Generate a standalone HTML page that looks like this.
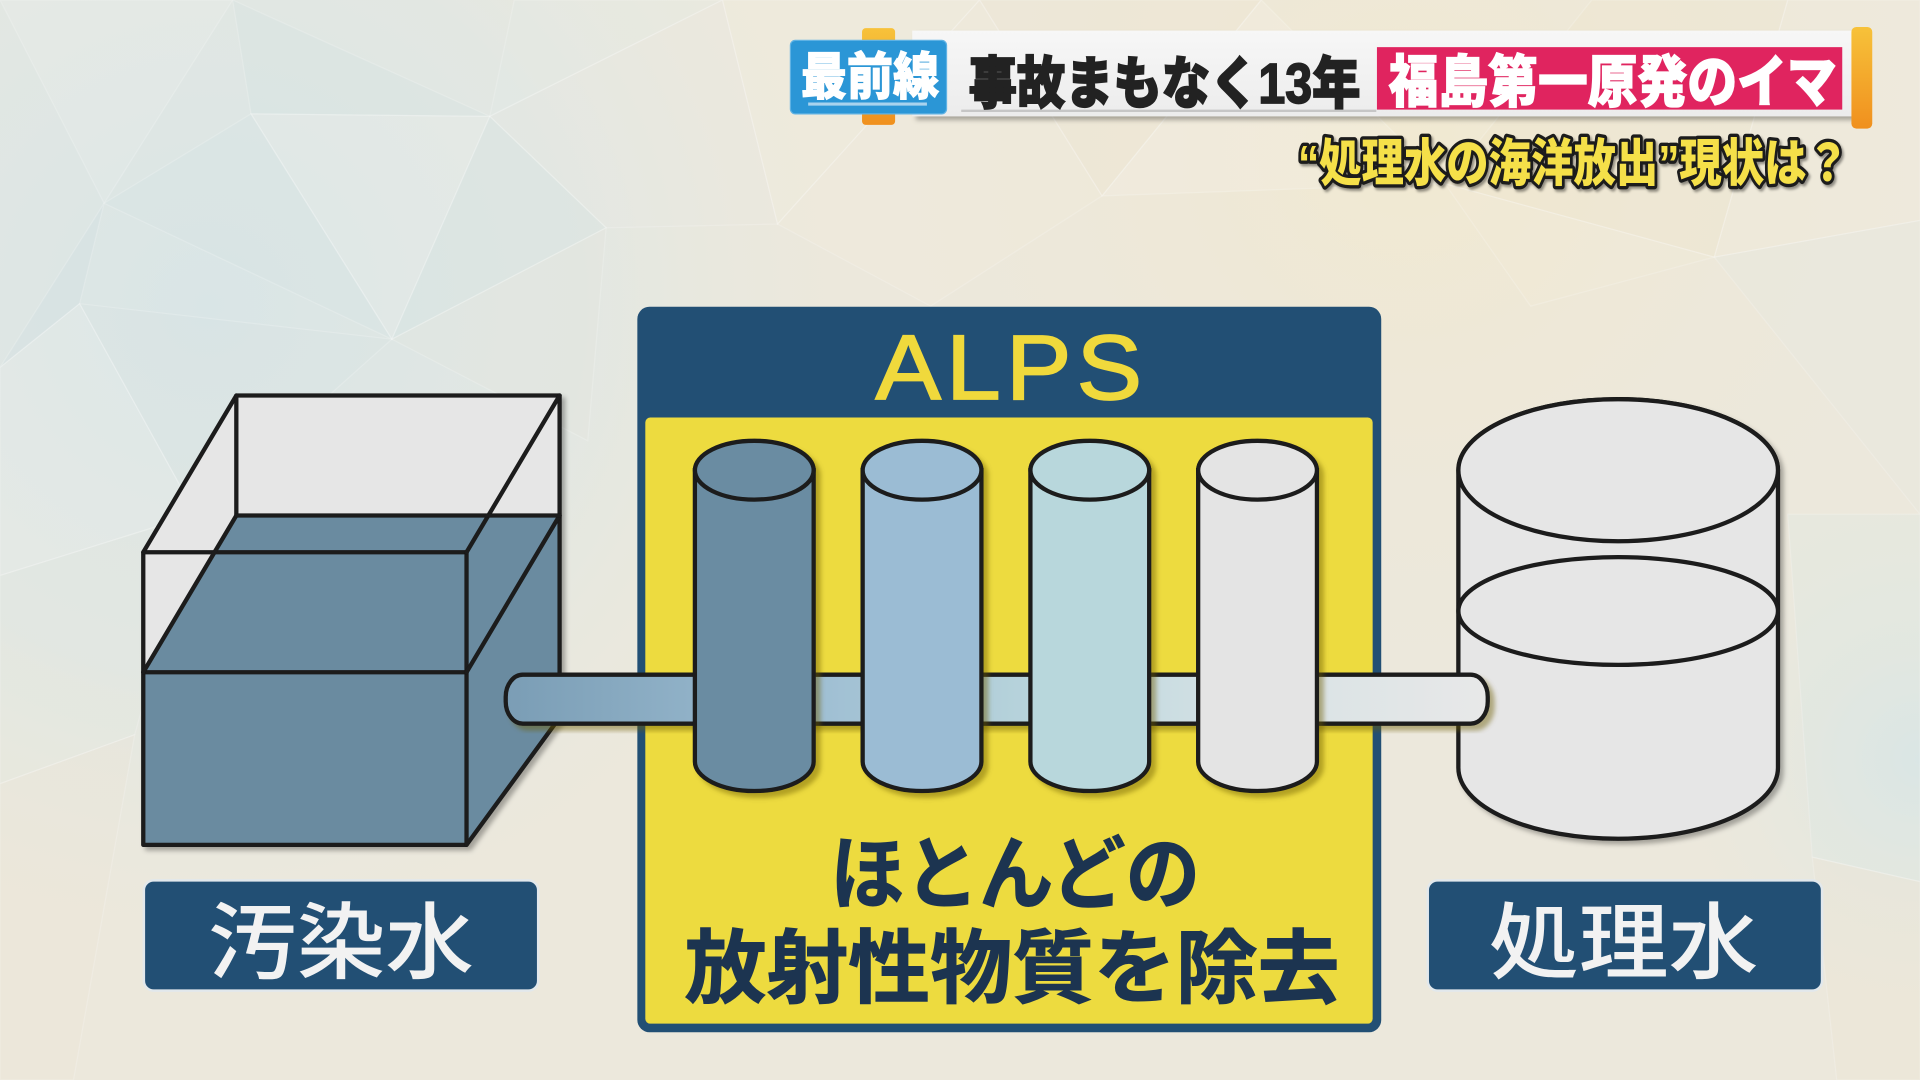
<!DOCTYPE html>
<html>
<head>
<meta charset="utf-8">
<style>
html,body{margin:0;padding:0;width:1920px;height:1080px;overflow:hidden;background:#ece8dc;}
svg{display:block;}
.cjk{font-family:"Liberation Sans","Noto Sans CJK JP",sans-serif;}
</style>
</head>
<body>
<svg width="1920" height="1080" viewBox="0 0 1568 882" xmlns="http://www.w3.org/2000/svg">
<defs>
  <radialGradient id="bgBlue" cx="170" cy="250" r="560" gradientUnits="userSpaceOnUse">
    <stop offset="0" stop-color="#d9e5e6"/>
    <stop offset="0.55" stop-color="#e0e7e4" stop-opacity="0.8"/>
    <stop offset="1" stop-color="#ece8dc" stop-opacity="0"/>
  </radialGradient>
  <radialGradient id="bgBlue2" cx="1568" cy="620" r="230" gradientUnits="userSpaceOnUse">
    <stop offset="0" stop-color="#dae6e5"/>
    <stop offset="1" stop-color="#ece8dc" stop-opacity="0"/>
  </radialGradient>
  <radialGradient id="bgCream" cx="1150" cy="120" r="520" gradientUnits="userSpaceOnUse">
    <stop offset="0" stop-color="#f1e9d1"/>
    <stop offset="1" stop-color="#ece8dc" stop-opacity="0"/>
  </radialGradient>
  <linearGradient id="pipeG" x1="413" y1="0" x2="1215" y2="0" gradientUnits="userSpaceOnUse">
    <stop offset="0" stop-color="#7a9db5"/>
    <stop offset="0.3" stop-color="#9dbdd2"/>
    <stop offset="0.55" stop-color="#b9d5dc"/>
    <stop offset="0.75" stop-color="#d6e2e5"/>
    <stop offset="1" stop-color="#e8e8e8"/>
  </linearGradient>
  <linearGradient id="orangeG" x1="0" y1="0" x2="0" y2="1">
    <stop offset="0" stop-color="#f7c23a"/>
    <stop offset="1" stop-color="#f0901e"/>
  </linearGradient>
  <linearGradient id="whiteBar" x1="0" y1="0" x2="0" y2="1">
    <stop offset="0" stop-color="#f7f7f7"/>
    <stop offset="1" stop-color="#ececec"/>
  </linearGradient>
  <filter id="sh" x="-10%" y="-10%" width="130%" height="130%">
    <feDropShadow dx="3" dy="3" stdDeviation="2" flood-color="#000" flood-opacity="0.3"/>
  </filter>
  <filter id="cs" x="-20%" y="-10%" width="150%" height="130%">
    <feDropShadow dx="4" dy="4" stdDeviation="2" flood-color="#6b5c00" flood-opacity="0.45"/>
  </filter>
  <filter id="ts" x="-5%" y="-20%" width="110%" height="150%">
    <feDropShadow dx="1.5" dy="2" stdDeviation="1" flood-color="#000" flood-opacity="0.4"/>
  </filter>
</defs>

<!-- Background -->
<rect x="0" y="0" width="1568" height="882" fill="#ece8dc"/>
<rect x="0" y="0" width="1568" height="882" fill="url(#bgCream)"/>
<rect x="0" y="0" width="1568" height="882" fill="url(#bgBlue)"/>
<rect x="0" y="0" width="1568" height="882" fill="url(#bgBlue2)"/>

<g stroke="#ffffff" stroke-opacity="0.2" stroke-width="1">
  <polygon points="0,0 190,0 85,166" fill="#ffffff" fill-opacity="0.1"/>
  <polygon points="190,0 400,95 205,93" fill="#cfe0e3" fill-opacity="0.2"/>
  <polygon points="85,166 205,93 320,277" fill="#d2e2e4" fill-opacity="0.25"/>
  <polygon points="205,93 400,95 320,277" fill="#ffffff" fill-opacity="0.1"/>
  <polygon points="400,95 495,186 320,277" fill="#cddfe2" fill-opacity="0.2"/>
  <polygon points="0,300 85,166 65,248" fill="#cbdde0" fill-opacity="0.25"/>
  <polygon points="65,248 320,277 160,420" fill="#d5e3e3" fill-opacity="0.2"/>
  <polygon points="0,300 65,248 160,420 0,470" fill="#ffffff" fill-opacity="0.1"/>
  <polygon points="320,277 495,186 480,360" fill="#e8e6da" fill-opacity="0.2"/>
  <polygon points="420,0 590,0 400,95" fill="#e4ebe8" fill-opacity="0.25"/>
  <polygon points="590,0 635,183 495,186 400,95" fill="#e9ebe4" fill-opacity="0.2"/>
  <polygon points="590,0 800,0 635,183" fill="#f3eedf" fill-opacity="0.3"/>
  <polygon points="800,0 1030,0 900,160" fill="#efe6cf" fill-opacity="0.3"/>
  <polygon points="635,183 800,0 900,160 760,250" fill="#f2ecdc" fill-opacity="0.25"/>
  <polygon points="900,160 1030,0 1180,150" fill="#ffffff" fill-opacity="0.12"/>
  <polygon points="1180,150 1300,0 1460,0 1400,210" fill="#efe5cb" fill-opacity="0.3"/>
  <polygon points="1400,210 1460,0 1568,0 1568,180" fill="#f3ecda" fill-opacity="0.25"/>
  <polygon points="1400,210 1568,180 1568,420" fill="#e3e8e2" fill-opacity="0.3"/>
  <polygon points="1180,150 1400,210 1250,250" fill="#f3ecd9" fill-opacity="0.25"/>
  <polygon points="0,470 160,420 110,600 0,640" fill="#e2e6e1" fill-opacity="0.25"/>
  <polygon points="0,640 110,600 60,882 0,882" fill="#ebe6d6" fill-opacity="0.3"/>
  <polygon points="1460,420 1568,420 1568,720 1480,700" fill="#dbe7e6" fill-opacity="0.3"/>
  <polygon points="1480,700 1568,720 1568,882 1500,882" fill="#ece6d3" fill-opacity="0.3"/>
</g>

<!-- Header -->
<rect x="745" y="25" width="768" height="70" fill="url(#whiteBar)" filter="url(#sh)"/>
<line x1="785" y1="90.5" x2="1124" y2="90.5" stroke="#c6c6c6" stroke-width="2"/>
<rect x="704" y="23" width="27" height="79" rx="3" fill="url(#orangeG)"/>
<rect x="1512" y="22" width="17" height="83" rx="4" fill="url(#orangeG)"/>
<rect x="645.5" y="33" width="127.5" height="60" rx="4" fill="#2b96d6" stroke="#5fb2e4" stroke-width="1"/>
<line x1="660" y1="85" x2="757" y2="85" stroke="#a9d3ee" stroke-width="2.5"/>
<text class="cjk" x="654" y="77" font-size="42" font-weight="900" fill="#ffffff" stroke="#ffffff" stroke-width="0.8" textLength="113" lengthAdjust="spacingAndGlyphs">最前線</text>
<text class="cjk" x="791" y="84" font-size="46" font-weight="900" fill="#222222" stroke="#222222" stroke-width="1.4" textLength="320" lengthAdjust="spacingAndGlyphs">事故まもなく13年</text>
<rect x="1124.5" y="38.5" width="380" height="51" fill="#e0245f"/>
<text class="cjk" x="1134" y="83" font-size="46" font-weight="900" fill="#ffffff" stroke="#ffffff" stroke-width="1" textLength="366" lengthAdjust="spacingAndGlyphs">福島第一原発のイマ</text>
<text class="cjk" x="1060" y="148" font-size="42" font-weight="900" fill="#f5e04a" stroke="#1a1a1a" stroke-width="5.5" stroke-linejoin="round" paint-order="stroke" textLength="450" lengthAdjust="spacingAndGlyphs" filter="url(#ts)">“処理水の海洋放出”現状は？</text>

<!-- Left tank -->
<g filter="url(#sh)">
  <polygon points="117,451 193,323 457,323 457,586 381,690 117,690" fill="#e6e6e6"/>
  <polygon points="117,549 193,421 457,421 457,586 381,690 117,690" fill="#6a8ba0"/>
  <g fill="none" stroke="#1a1a1a" stroke-width="3.5" stroke-linejoin="round" stroke-linecap="round">
    <polygon points="117,451 193,323 457,323 457,586 381,690 117,690"/>
    <line x1="117" y1="451" x2="381" y2="451"/>
    <line x1="381" y1="451" x2="381" y2="690"/>
    <line x1="381" y1="451" x2="457" y2="323"/>
    <line x1="193" y1="323" x2="193" y2="421"/>
    <line x1="117" y1="549" x2="381" y2="549"/>
    <line x1="117" y1="549" x2="193" y2="421"/>
    <line x1="381" y1="549" x2="457" y2="421"/>
    <line x1="193" y1="421" x2="457" y2="421"/>
  </g>
</g>

<!-- Right tank -->
<g filter="url(#sh)">
  <path d="M1191,384 A130.5,58 0 0 1 1452,384 L1452,627 A130.5,58 0 0 1 1191,627 Z" fill="#e6e6e6" stroke="#1a1a1a" stroke-width="3.5"/>
  <ellipse cx="1321.5" cy="384" rx="130.5" ry="58" fill="#e6e6e6" stroke="#1a1a1a" stroke-width="3.5"/>
  <ellipse cx="1321.5" cy="499" rx="130.5" ry="44" fill="#e6e6e6" stroke="#1a1a1a" stroke-width="3.5"/>
</g>

<!-- ALPS panel -->
<rect x="520.5" y="250.5" width="607.5" height="592.5" rx="10" fill="#224f74"/>
<rect x="527" y="341" width="594" height="495" rx="4" fill="#eddb3f"/>
<text x="715" y="326" font-family="Liberation Sans, sans-serif" font-size="75" fill="#f0d93c" stroke="#f0d93c" stroke-width="1.4" letter-spacing="4" textLength="222" lengthAdjust="spacingAndGlyphs">ALPS</text>

<!-- Pipe -->
<g filter="url(#cs)">
  <rect x="413" y="551" width="802" height="40" rx="14" ry="18" fill="url(#pipeG)" stroke="#1a1a1a" stroke-width="3.5"/>
</g>

<!-- Cylinders -->
<g filter="url(#cs)" stroke="#1a1a1a" stroke-width="3.5">
  <path d="M567.5,384 L567.5,622 A48.5,24 0 0 0 664.5,622 L664.5,384 Z" fill="#6a8ca2"/>
  <ellipse cx="616" cy="384" rx="48.5" ry="24" fill="#6a8ca2"/>
</g>
<g filter="url(#cs)" stroke="#1a1a1a" stroke-width="3.5">
  <path d="M704.5,384 L704.5,622 A48.5,24 0 0 0 801.5,622 L801.5,384 Z" fill="#9bbcd4"/>
  <ellipse cx="753" cy="384" rx="48.5" ry="24" fill="#9bbcd4"/>
</g>
<g filter="url(#cs)" stroke="#1a1a1a" stroke-width="3.5">
  <path d="M841.5,384 L841.5,622 A48.5,24 0 0 0 938.5,622 L938.5,384 Z" fill="#b8d7dc"/>
  <ellipse cx="890" cy="384" rx="48.5" ry="24" fill="#b8d7dc"/>
</g>
<g filter="url(#cs)" stroke="#1a1a1a" stroke-width="3.5">
  <path d="M978.5,384 L978.5,622 A48.5,24 0 0 0 1075.5,622 L1075.5,384 Z" fill="#e4e4e4"/>
  <ellipse cx="1027" cy="384" rx="48.5" ry="24" fill="#e4e4e4"/>
</g>

<!-- ALPS text -->
<text class="cjk" x="678" y="737" font-size="66" font-weight="700" fill="#1c3450" stroke="#1c3450" stroke-width="0.8" textLength="302" lengthAdjust="spacingAndGlyphs">ほとんどの</text>
<text class="cjk" x="559" y="814" font-size="66" font-weight="700" fill="#1c3450" stroke="#1c3450" stroke-width="0.8" textLength="535" lengthAdjust="spacingAndGlyphs">放射性物質を除去</text>

<!-- Labels -->
<rect x="117.5" y="719" width="322" height="90" rx="8" fill="#224f74" stroke="#e2e8ec" stroke-width="2"/>
<text class="cjk" x="170" y="794" font-size="68" font-weight="500" fill="#f2f2f2" textLength="217" lengthAdjust="spacingAndGlyphs">汚染水</text>
<rect x="1166" y="719" width="322" height="90" rx="8" fill="#224f74" stroke="#e2e8ec" stroke-width="2"/>
<text class="cjk" x="1216" y="794" font-size="68" font-weight="500" fill="#f2f2f2" textLength="220" lengthAdjust="spacingAndGlyphs">処理水</text>
</svg>
</body>
</html>
